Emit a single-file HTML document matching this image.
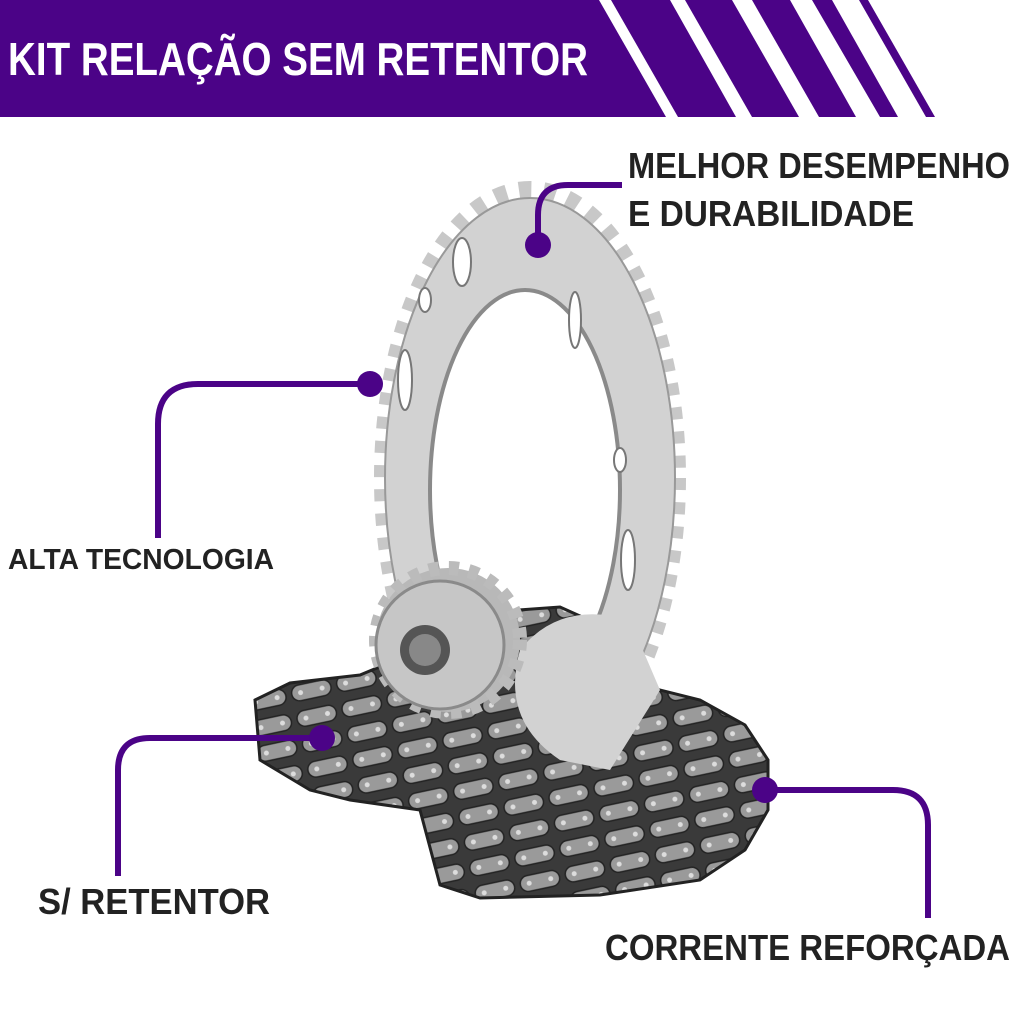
<!DOCTYPE html>
<html><head><meta charset="utf-8"><style>
html,body{margin:0;padding:0;background:#fff;}
svg{display:block}
text{font-family:"Liberation Sans",sans-serif;font-weight:bold}
</style></head><body>
<svg width="1024" height="1024" viewBox="0 0 1024 1024" xmlns="http://www.w3.org/2000/svg">
<defs>
<pattern id="links" width="46" height="26" patternUnits="userSpaceOnUse" patternTransform="rotate(-12)">
<rect width="46" height="26" fill="#3a3a3a"/>
<rect x="3" y="4" width="40" height="16" rx="8" fill="#9a9a9a" stroke="#222" stroke-width="1.5"/>
<circle cx="12" cy="12" r="2.5" fill="#ddd"/><circle cx="34" cy="12" r="2.5" fill="#ddd"/>
</pattern>
</defs>
<!-- header -->
<polygon points="0,0 599,0 666,117 0,117" fill="#4b0387"/>
<polygon points="611,0 670,0 736,117 678,117" fill="#4b0387"/>
<polygon points="685,0 732,0 799,117 752,117" fill="#4b0387"/>
<polygon points="752,0 790,0 856,117 819,117" fill="#4b0387"/>
<polygon points="812,0 832,0 898,117 880,117" fill="#4b0387"/>
<polygon points="859,0 868,0 935,117 926,117" fill="#4b0387"/>
<text x="8" y="75" font-size="46" fill="#fff" textLength="580" lengthAdjust="spacingAndGlyphs">KIT RELAÇÃO SEM RETENTOR</text>

<!-- big sprocket -->
<ellipse cx="530" cy="478" rx="145" ry="286" fill="none" stroke="#c8c8c8" stroke-width="22" stroke-dasharray="12 12"/>
<path fill-rule="evenodd" fill="#d2d2d2" stroke="#999" stroke-width="2" d="M385,478 a145,280 0 1,0 290,0 a145,280 0 1,0 -290,0 Z M430,490 a95,200 0 1,0 190,0 a95,200 0 1,0 -190,0 Z"/>
<ellipse cx="525" cy="490" rx="95" ry="200" fill="none" stroke="#8a8a8a" stroke-width="4"/>
<ellipse cx="405" cy="380" rx="7" ry="30" fill="#fff" stroke="#777" stroke-width="2"/>
<ellipse cx="628" cy="560" rx="7" ry="30" fill="#fff" stroke="#777" stroke-width="2"/>
<ellipse cx="575" cy="320" rx="6" ry="28" fill="#fff" stroke="#777" stroke-width="2"/>
<ellipse cx="462" cy="262" rx="9" ry="24" fill="#fff" stroke="#777" stroke-width="2"/>
<ellipse cx="620" cy="460" rx="6" ry="12" fill="#fff" stroke="#777" stroke-width="2"/>
<ellipse cx="425" cy="300" rx="6" ry="12" fill="#fff" stroke="#777" stroke-width="2"/>

<!-- chain -->
<polygon points="255,700 290,683 360,675 420,650 490,612 560,607 600,625 620,680 700,700 745,725 768,760 768,810 745,850 700,880 600,895 480,898 440,885 428,840 420,810 350,800 310,790 260,760" fill="url(#links)" stroke="#222" stroke-width="3"/>

<!-- lower sprocket part over chain -->
<path d="M520,650 Q560,600 630,620 L660,690 L610,770 L560,760 Q500,720 520,650 Z" fill="#d2d2d2"/>

<!-- small sprocket -->
<circle cx="448" cy="640" r="72" fill="#b8b8b8" stroke="#bbb" stroke-width="14" stroke-dasharray="10 10"/>
<circle cx="440" cy="645" r="64" fill="#c6c6c6"/>
<circle cx="440" cy="645" r="64" fill="none" stroke="#8a8a8a" stroke-width="3"/>
<circle cx="425" cy="650" r="25" fill="#555"/>
<circle cx="425" cy="650" r="16" fill="#888"/>

<!-- callouts -->
<g stroke="#4b0387" stroke-width="6" fill="none">
<path d="M538,245 L538,215 Q538,185 568,185 L622,185"/>
<path d="M370,384 L198,384 Q158,384 158,424 L158,538"/>
<path d="M322,738 L150,738 Q118,738 118,770 L118,876"/>
<path d="M765,790 L893,790 Q928,790 928,825 L928,918"/>
</g>
<g fill="#4b0387">
<circle cx="538" cy="245" r="13"/>
<circle cx="370" cy="384" r="13"/>
<circle cx="322" cy="738" r="13"/>
<circle cx="765" cy="790" r="13"/>
</g>

<g fill="#222">
<text x="628" y="178" font-size="36" textLength="382" lengthAdjust="spacingAndGlyphs">MELHOR DESEMPENHO</text>
<text x="628" y="226" font-size="36" textLength="286" lengthAdjust="spacingAndGlyphs">E DURABILIDADE</text>
<text x="8" y="569" font-size="29" textLength="266" lengthAdjust="spacingAndGlyphs">ALTA TECNOLOGIA</text>
<text x="38" y="914" font-size="36" textLength="232" lengthAdjust="spacingAndGlyphs">S/ RETENTOR</text>
<text x="605" y="960" font-size="36" textLength="405" lengthAdjust="spacingAndGlyphs">CORRENTE REFORÇADA</text>
</g>
</svg>
</body></html>
